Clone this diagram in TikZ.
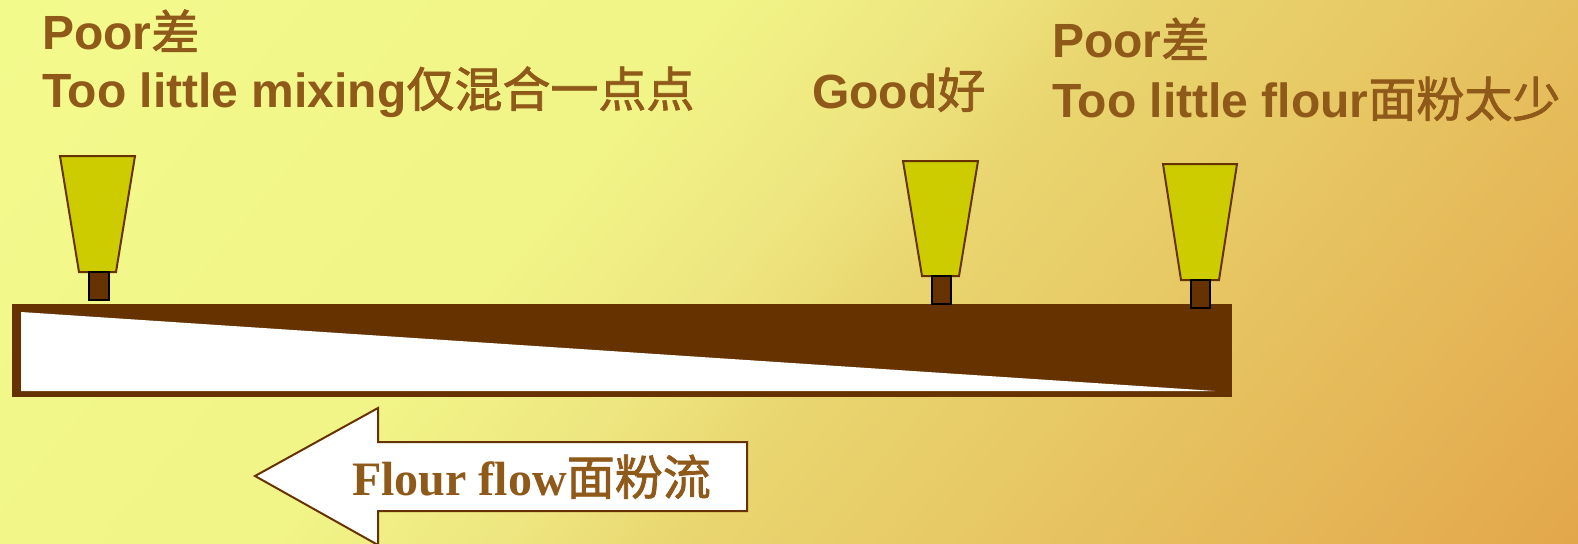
\documentclass[tikz,border=0pt]{standalone}
\usepackage{fontspec}
\setmainfont{Liberation Sans}
\newfontfamily\cjk{Noto Sans CJK SC}[FakeBold=1.6]
\newfontfamily\serifb{Liberation Serif}
\definecolor{txt}{RGB}{143,89,26}
\definecolor{brn}{RGB}{102,51,0}
\definecolor{noz}{RGB}{204,204,0}
\definecolor{bgA}{HTML}{F3FA8C}
\definecolor{bgB}{HTML}{F1F487}
\definecolor{bgC}{HTML}{EEE680}
\definecolor{bgD}{HTML}{E9D670}
\definecolor{bgE}{HTML}{E7C864}
\definecolor{bgF}{HTML}{E3A74B}
\pgfdeclarehorizontalshading{bgshade}{100bp}{color(0bp)=(bgA); color(15bp)=(bgA); color(40bp)=(bgB); color(48bp)=(bgC); color(54bp)=(bgD); color(64bp)=(bgE); color(85bp)=(bgF); color(100bp)=(bgF)}
\tikzset{
  lbl/.style={anchor=base west, inner sep=0pt, outer sep=0pt, text=txt, font=\fontsize{48}{57}\selectfont\bfseries},
  cup/.style={fill=noz, draw=brn, line width=2pt, line join=miter},
  stem/.style={fill=brn, draw=black, line width=1.6pt},
  flowarrow/.style={fill=white, draw=brn, line width=2pt, line join=miter}
}
\begin{document}
\begin{tikzpicture}[x=1pt,y=-1pt]
\useasboundingbox (0,0) rectangle (1578,543);
\shade[shading=bgshade, shading angle=-40] (0,0) rectangle (1578,543);

% trough
\fill[brn] (12,304) rectangle (1232,397);
\fill[white] (21,312) -- (1215,391) -- (21,391) -- cycle;

% nozzles
\draw[cup] (60,156) -- (135,156) -- (116,272) -- (79,272) -- cycle;
\draw[stem] (89,272) rectangle (109,300);
\draw[cup] (903,161) -- (978,161) -- (959,276) -- (922,276) -- cycle;
\draw[stem] (932,276) rectangle (951,304);
\draw[cup] (1163,164) -- (1237,164) -- (1219,280) -- (1181,280) -- cycle;
\draw[stem] (1191,280) rectangle (1210,308);

% flow arrow
\draw[flowarrow] (255,476) -- (378,408) -- (378,442) -- (747,442) -- (747,511) -- (378,511) -- (378,545) -- cycle;
\node[anchor=base west, inner sep=0pt, text=txt, font=\fontsize{48}{57}\selectfont\serifb\bfseries] (flow) at (352,495) {Flour flow{\cjk\mdseries 面粉流}};

% labels
\node[lbl] (poorL) at (42,50) {Poor{\cjk\mdseries 差}};
\node[lbl] (mixL) at (42,107) {Too little mixing{\cjk\mdseries 仅混合一点点}};
\node[lbl] (good) at (812,108) {Good{\cjk\mdseries 好}};
\node[lbl] (poorR) at (1052,58) {Poor{\cjk\mdseries 差}};
\node[lbl] (flourR) at (1052,117) {Too little flour{\cjk\mdseries 面粉太少}};
\end{tikzpicture}
\end{document}
